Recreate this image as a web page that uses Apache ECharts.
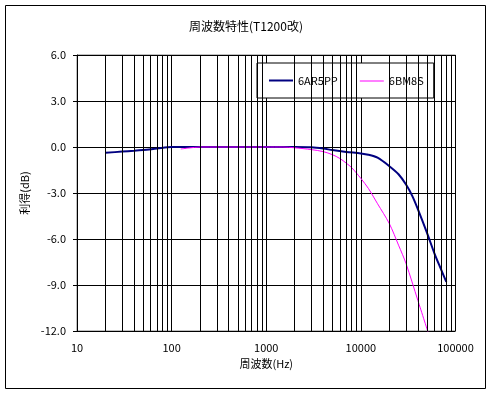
<!DOCTYPE html>
<html><head><meta charset="utf-8">
<script src="https://cdn.jsdelivr.net/npm/echarts@6/dist/echarts.min.js"></script>
<style>html,body{margin:0;padding:0;background:#fff}#c{width:492px;height:395px}</style>
</head><body><div id="c"></div>
<script>
var titleText = '周波数特性(T1200改)';
var xName = '周波数(Hz)';
var yName = '利得(dB)';
var seriesNames = ['6AR5PP', '6BM8S'];
var freqA = [20, 30, 40, 50, 70, 100, 200, 500, 1000, 2000, 3000, 4000, 5000, 7000, 10000, 12000, 15000, 20000, 25000, 30000, 35000, 40000, 50000, 60000, 70000, 80000];
var gainA = [-0.38, -0.3, -0.25, -0.2, -0.1, 0, 0, 0, 0, 0, -0.02, -0.1, -0.2, -0.32, -0.42, -0.5, -0.7, -1.25, -1.78, -2.45, -3.2, -4.05, -5.6, -6.95, -7.95, -8.8];
var freqB = [125, 150, 200, 500, 1000, 1500, 2000, 3000, 4000, 5000, 6000, 7000, 8000, 10000, 12000, 15000, 20000, 25000, 30000, 40000, 52000];
var gainB = [-0.13, -0.07, 0, 0, 0, 0, -0.05, -0.17, -0.3, -0.5, -0.75, -1.05, -1.35, -2.05, -2.7, -3.7, -5.0, -6.4, -7.6, -10.0, -12.2];
var yMin = -12, yMax = 6, yStep = 3;
var xMin = 10, xMax = 100000;
var minorMult = [2, 3, 4, 5, 6, 7, 8, 9];
var decades = [10, 100, 1000, 10000];

function pairs(xs, ys) { return xs.map(function (x, i) { return [x, ys[i]]; }); }
var minorLines = [];
decades.forEach(function (d) { minorMult.forEach(function (m) { minorLines.push({ xAxis: d * m }); }); });

var FF = '"Noto Sans CJK JP", "Liberation Sans", sans-serif';
var chart = echarts.init(document.getElementById('c'), null, { renderer: 'canvas' });
chart.setOption({
  animation: false,
  backgroundColor: '#fff',
  textStyle: { fontFamily: FF },
  title: { text: titleText, left: 'center', top: 15, textStyle: { fontSize: 12, fontWeight: 'normal', color: '#000', fontFamily: FF } },
  graphic: [{ type: 'rect', shape: { x: 5.5, y: 5.5, width: 480, height: 383 }, style: { fill: 'none', stroke: '#000', lineWidth: 1 }, silent: true }],
  legend: {
    data: [
      { name: seriesNames[0], icon: 'rect', itemStyle: { color: '#000080' } },
      { name: seriesNames[1], icon: 'path://M0,0 L24,0 L24,0.01 L0,0.01 Z M0,1 L24,1 L24,2 L0,2 Z', itemStyle: { color: '#FF00FF' } }
    ],
    left: 257, top: 63, orient: 'horizontal',
    padding: [11, 10, 11, 12], itemGap: 22, itemWidth: 24, itemHeight: 2,
    backgroundColor: '#fff', borderColor: '#000', borderWidth: 1,
    textStyle: { fontSize: 11, color: '#000', fontFamily: FF, lineHeight: 13 }
  },
  grid: { left: 77, right: 36.5, top: 55, bottom: 64, show: true, borderColor: '#808080', borderWidth: 1, backgroundColor: '#fff' },
  xAxis: {
    type: 'log', logBase: 10, min: xMin, max: xMax,
    name: xName, nameLocation: 'middle', nameGap: 21,
    nameTextStyle: { fontSize: 11, color: '#000', fontFamily: FF },
    axisLine: { show: true, lineStyle: { color: '#000', width: 1 } },
    axisTick: { show: false },
    axisLabel: { fontSize: 11, color: '#000', margin: 11, formatter: function (v) { return String(Math.round(v)); } },
    splitLine: { show: true, lineStyle: { color: '#000', width: 1 } },
    minorTick: { show: false }, minorSplitLine: { show: false }
  },
  yAxis: {
    type: 'value', min: yMin, max: yMax, interval: yStep,
    name: yName, nameLocation: 'middle', nameGap: 46, nameRotate: 90,
    nameTextStyle: { fontSize: 11, color: '#000', fontFamily: FF },
    axisLine: { show: true, lineStyle: { color: '#000', width: 1 } },
    axisTick: { show: true, inside: false, length: 4, lineStyle: { color: '#000' } },
    axisLabel: { fontSize: 11, color: '#000', margin: 11, formatter: function (v) { return v.toFixed(1); } },
    splitLine: { show: true, lineStyle: { color: '#000', width: 1 } }
  },
  series: [
    {
      name: '_grid', type: 'line', data: [], silent: true, z: 1,
      markLine: { silent: true, symbol: ['none', 'none'], label: { show: false }, animation: false,
        lineStyle: { color: '#000', width: 1, type: 'solid' }, emphasis: { disabled: true }, data: minorLines }
    },
    {
      name: seriesNames[0], type: 'line', data: pairs(freqA, gainA), smooth: 0.3, symbol: 'none', z: 3,
      color: '#000080', lineStyle: { color: '#000080', width: 2 }
    },
    {
      name: seriesNames[1], type: 'line', data: pairs(freqB, gainB), smooth: 0.3, symbol: 'none', z: 4,
      color: '#FF00FF', lineStyle: { color: '#FF00FF', width: 1 }
    }
  ]
});
</script>
</body></html>
